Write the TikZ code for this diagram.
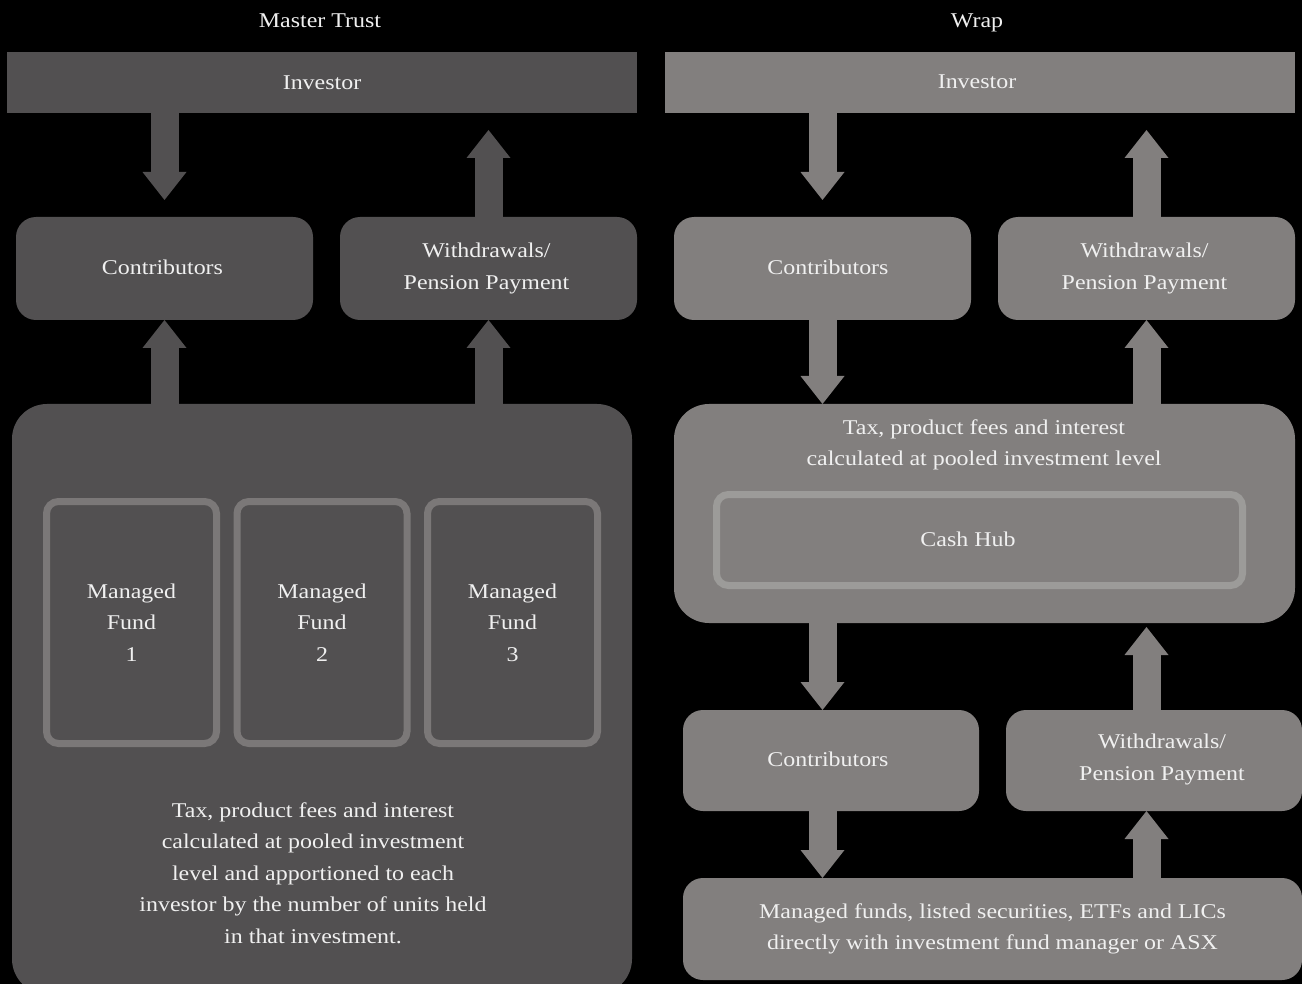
\documentclass[tikz,border=0pt]{standalone}
\usepackage{fontspec}
\setmainfont[FakeStretch=1.14]{Liberation Serif}
\usetikzlibrary{arrows.meta}
\definecolor{leftc}{HTML}{525051}
\definecolor{rightc}{HTML}{827F7E}
\definecolor{fundb}{HTML}{7B7878}
\definecolor{hubb}{HTML}{9C9B99}
\definecolor{txt}{HTML}{F0F0F0}
\begin{document}
\begin{tikzpicture}[x=1pt,y=-1pt,
  every node/.style={text=txt, font=\fontsize{21}{31.5}\selectfont, align=center, inner sep=0pt, outer sep=0pt},
  bar/.style={minimum width=630pt, minimum height=61pt},
  rbox/.style={rounded corners=20pt, minimum width=297pt, minimum height=103pt},
  bigbox/.style={rounded corners=35pt},
  fundbox/.style={draw=fundb, line width=7pt, rounded corners=12pt, minimum width=170pt, minimum height=242pt},
  flowL/.style={draw=leftc, line width=28pt, -{Triangle[width=44pt,length=28pt,line width=0pt]}},
  flowR/.style={draw=rightc, line width=28pt, -{Triangle[width=44pt,length=28pt,line width=0pt]}}
]
\fill[black] (0,0) rectangle (1302,984);
\useasboundingbox (0,0) rectangle (1302,984);

% titles
\node[anchor=base] (tL) at (320,27.5) {Master Trust};
\node[anchor=base] (tR) at (977,27.5) {Wrap};

% ---------- Master Trust ----------
\node[bar, fill=leftc] (invL) at (322,82.5) {Investor};
\node[rbox, fill=leftc] (conL) at (164.5,268.5) {};
\node (conLtxt) at (162.5,267.5) {Contributors};
\node[rbox, fill=leftc] (witL) at (488.5,268.5) {};
\node (witLtxt) at (486.5,268.5) {Withdrawals/\\Pension Payment};
\node[bigbox, fill=leftc, minimum width=620pt, minimum height=590pt] (bigL) at (322,699) {};
\node[fundbox] (f1) at (131.5,622.5) {Managed\\Fund\\1};
\node[fundbox] (f2) at (322,622.5) {Managed\\Fund\\2};
\node[fundbox] (f3) at (512.5,622.5) {Managed\\Fund\\3};
\node (taxL) at (313,873) {Tax, product fees and interest\\calculated at pooled investment\\level and apportioned to each\\investor by the number of units held\\in that investment.};

\draw[flowL, shorten >=17pt] (conL.north |- invL.south) -- (conL.north);
\draw[flowL, shorten >=17pt] (witL.north) -- (witL.north |- invL.south);
\draw[flowL] (conL.south |- bigL.north) -- (conL.south);
\draw[flowL] (witL.south |- bigL.north) -- (witL.south);

% ---------- Wrap ----------
\node[bar, fill=rightc] (invR) at (980,82.5) {};
\node (invRtxt) at (977,82) {Investor};
\node[rbox, fill=rightc] (conR) at (822.5,268.5) {};
\node (conRtxt) at (828,267.5) {Contributors};
\node[rbox, fill=rightc] (witR) at (1146.5,268.5) {};
\node (witRtxt) at (1144.5,268.5) {Withdrawals/\\Pension Payment};
\node[bigbox, fill=rightc, minimum width=621pt, minimum height=219pt] (tax) at (984.5,513.5) {};
\node (taxtxt) at (984,445) {Tax, product fees and interest\\calculated at pooled investment level};
\node[draw=hubb, line width=7pt, rounded corners=12pt, minimum width=526pt, minimum height=91pt] (hub) at (979.5,540) {};
\node (hubtxt) at (968,539) {Cash Hub};
\node[rbox, fill=rightc, minimum width=296pt, minimum height=101pt] (con2) at (831,760.5) {};
\node (con2txt) at (828,759) {Contributors};
\node[rbox, fill=rightc, minimum width=296pt, minimum height=101pt] (wit2) at (1154,760.5) {};
\node (wit2txt) at (1162,759.5) {Withdrawals/\\Pension Payment};
\node[rbox, fill=rightc, minimum width=619pt, minimum height=102pt] (inv2) at (992.5,929) {Managed funds, listed securities, ETFs and LICs\\directly with investment fund manager or ASX};

\draw[flowR, shorten >=17pt] (conR.north |- invR.south) -- (conR.north);
\draw[flowR, shorten >=17pt] (witR.north) -- (witR.north |- invR.south);
\draw[flowR] (conR.south) -- (conR.south |- tax.north);
\draw[flowR] (witR.south |- tax.north) -- (witR.south);
\draw[flowR] (conR.south |- tax.south) -- (conR.south |- con2.north);
\draw[flowR, shorten >=4pt] (witR.south |- wit2.north) -- (witR.south |- tax.south);
\draw[flowR] (conR.south |- con2.south) -- (conR.south |- inv2.north);
\draw[flowR] (witR.south |- inv2.north) -- (witR.south |- wit2.south);
\end{tikzpicture}
\end{document}
